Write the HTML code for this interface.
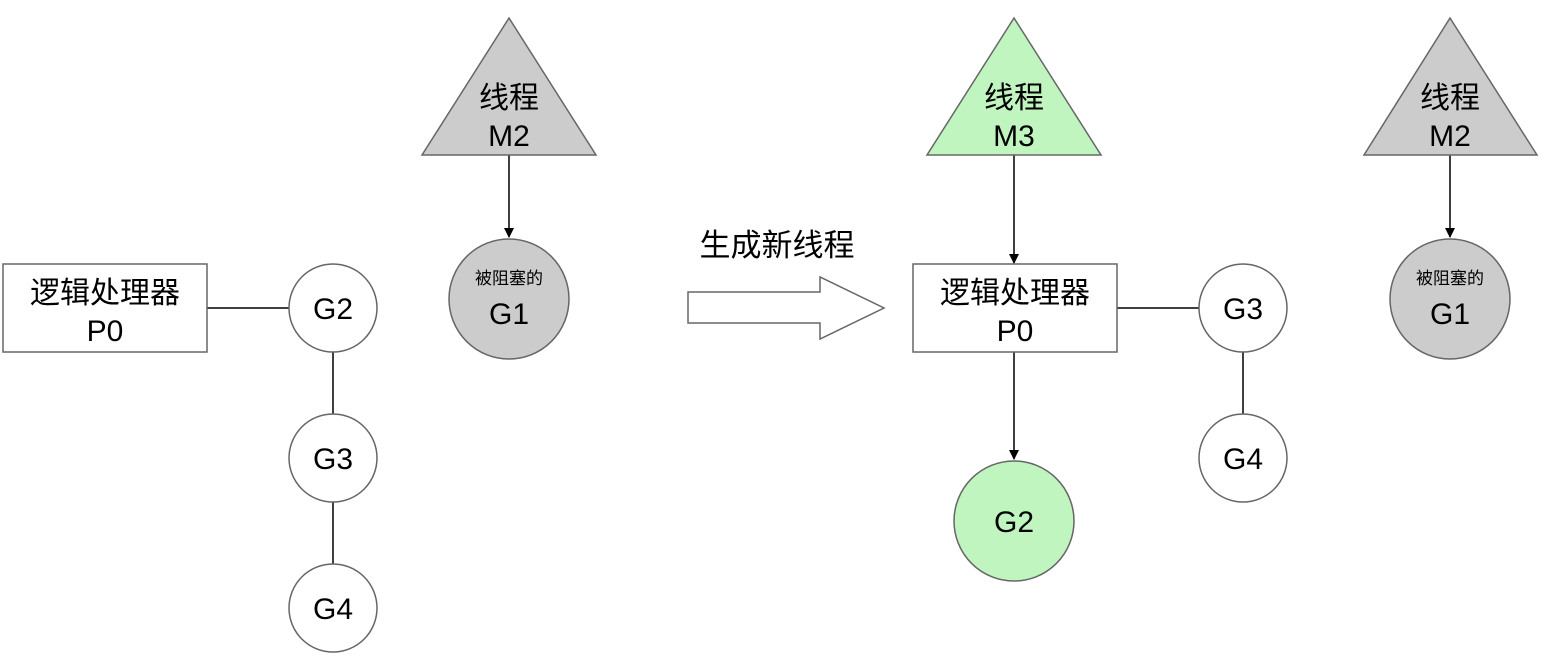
<!DOCTYPE html>
<html><head><meta charset="utf-8"><style>
html,body{margin:0;padding:0;background:#fff;width:1546px;height:662px;overflow:hidden}
text{font-family:"Liberation Sans","Noto Sans CJK SC",sans-serif;fill:#000;text-anchor:middle}
</style></head><body>
<svg width="1546" height="662" xmlns="http://www.w3.org/2000/svg">
<defs><marker id="a" markerWidth="10" markerHeight="10" refX="9" refY="5" orient="auto" markerUnits="userSpaceOnUse"><path d="M0,0 L10,5 L0,10 z" fill="#000"/></marker></defs>
<g stroke="#000" stroke-width="1.5" fill="none">
<line x1="207" y1="308" x2="289" y2="308"/>
<line x1="333" y1="352" x2="333" y2="414"/>
<line x1="333" y1="502" x2="333" y2="564"/>
<line x1="509" y1="155" x2="509" y2="237" marker-end="url(#a)"/>
<line x1="1014" y1="155" x2="1014" y2="263" marker-end="url(#a)"/>
<line x1="1014" y1="352" x2="1014" y2="459" marker-end="url(#a)"/>
<line x1="1117" y1="308" x2="1199" y2="308"/>
<line x1="1243" y1="352" x2="1243" y2="414"/>
<line x1="1450" y1="155" x2="1450" y2="237" marker-end="url(#a)"/>
</g>
<g stroke="#666" stroke-width="1.5">
<rect x="3" y="264" width="204" height="88" fill="#fff"/>
<circle cx="333" cy="308" r="44" fill="#fff"/>
<circle cx="333" cy="458" r="44" fill="#fff"/>
<circle cx="333" cy="608" r="44" fill="#fff"/>
<polygon points="509,18 596,155 422,155" fill="#ccc"/>
<circle cx="509" cy="299" r="60" fill="#ccc"/>
<polygon points="688,292 820,292 820,277 884,308 820,339 820,323 688,323" fill="#fff"/>
<polygon points="1014,18 1101,155 927,155" fill="#c0f5c0"/>
<rect x="913" y="264" width="204" height="88" fill="#fff"/>
<circle cx="1014" cy="521" r="60" fill="#c0f5c0"/>
<circle cx="1243" cy="308" r="44" fill="#fff"/>
<circle cx="1243" cy="458" r="44" fill="#fff"/>
<polygon points="1450,18 1537,155 1364,155" fill="#ccc"/>
<circle cx="1450" cy="299" r="60" fill="#ccc"/>
</g>
<g font-size="30">
<text x="105" y="303">逻辑处理器</text><text x="105" y="341">P0</text>
<text x="333" y="319">G2</text><text x="333" y="469">G3</text><text x="333" y="619">G4</text>
<text x="509" y="108">线程</text><text x="509" y="146">M2</text>
<text x="509" y="324">G1</text>
<text x="1014" y="108">线程</text><text x="1014" y="146">M3</text>
<text x="1015" y="303">逻辑处理器</text><text x="1015" y="341">P0</text>
<text x="1014" y="532">G2</text>
<text x="1243" y="319">G3</text><text x="1243" y="469">G4</text>
<text x="1450" y="108">线程</text><text x="1450" y="146">M2</text>
<text x="1450" y="324">G1</text>
<text x="777" y="256" font-size="31">生成新线程</text>
</g>
<g font-size="17">
<text x="509" y="284">被阻塞的</text>
<text x="1450" y="284">被阻塞的</text>
</g>
</svg>
</body></html>
